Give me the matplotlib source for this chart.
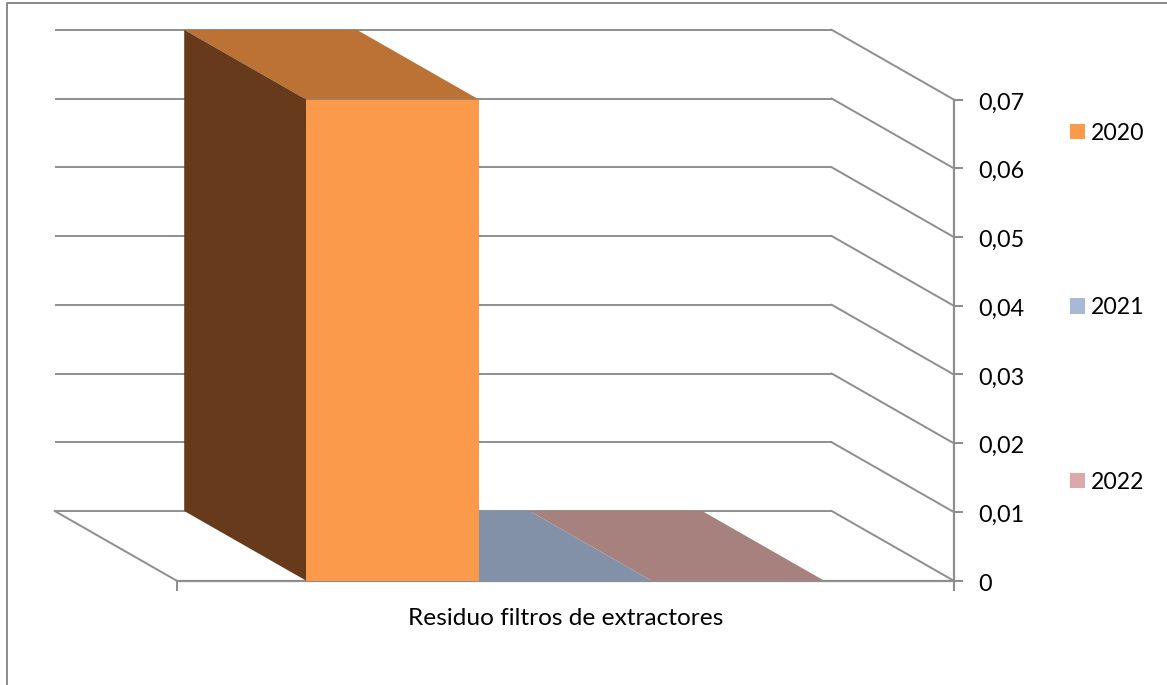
import matplotlib
matplotlib.use("Agg")
import matplotlib.pyplot as plt
from matplotlib.patches import Polygon, Patch
from matplotlib.lines import Line2D
from matplotlib.transforms import ScaledTranslation

plt.rcParams['font.family'] = ['Lato', 'DejaVu Sans']

category = "Residuo filtros de extractores"
years = ["2020", "2021", "2022"]
values = [0.07, 0.0, 0.0]
tick_values = [0, 0.01, 0.02, 0.03, 0.04, 0.05, 0.06, 0.07]
tick_labels = ["0", "0,01", "0,02", "0,03", "0,04", "0,05", "0,06", "0,07"]
front_colors = ["#FB9A4B", "#A9B8D6", "#DBA9A9"]
top_colors = ["#BC7235", "#8290A8", "#A6817E"]
side_colors = ["#663A1A", "#55606F", "#6E5554"]

W, H = 1167, 685
LINE = "#8E8E8E"
fig = plt.figure(figsize=(W / 100, H / 100), dpi=100)
left, right, top, bottom = 176.7, 953.7, 99.5, 580.7
ax = fig.add_axes([left / W, 1 - bottom / H, (right - left) / W, (bottom - top) / H])
ax.set_xlim(0, 1)
ax.set_ylim(0, 0.07)

# oblique depth: one depth unit in axis units
DX = 122 / (right - left)
DY = 69.7 / (bottom - top) * 0.07


def back(x, v):
    return (x - DX, v + DY)


# walls
for v in tick_values:
    lx, ly = back(0, v)
    bx, by = back(1, v)
    ax.plot([lx, bx], [ly, by], color=LINE, lw=1.4, clip_on=False, zorder=1,
            solid_capstyle="butt")
    ax.plot([bx, 1], [by, v], color=LINE, lw=1.4, clip_on=False, zorder=1)
# floor left edge
bx, by = back(0, 0)
ax.plot([bx, 0], [by, 0], color=LINE, lw=1.4, clip_on=False, zorder=1)

# bars: gap width 150 %
bar_w = 1 / (len(values) + 1.5)
start = 0.75 * bar_w
for i in reversed(range(len(values))):
    x0 = start + i * bar_w
    x1 = x0 + bar_w
    v = values[i]
    ax.add_patch(Polygon([(x0, v), (x1, v), back(x1, v), back(x0, v)], closed=True,
                         fc=top_colors[i], ec="none", clip_on=False, zorder=3))
    if v > 0:
        ax.add_patch(Polygon([(x0, 0), (x0, v), back(x0, v), back(x0, 0)], closed=True,
                             fc=side_colors[i], ec="none", clip_on=False, zorder=3))
        ax.bar(x0, v, width=bar_w, align="edge", color=front_colors[i], zorder=4)

for s in ("left", "top"):
    ax.spines[s].set_visible(False)
for s in ("right", "bottom"):
    ax.spines[s].set_color(LINE)
    ax.spines[s].set_linewidth(1.6)
    ax.spines[s].set_zorder(2)

ax.yaxis.tick_right()
ax.set_yticks(tick_values, tick_labels)
ax.tick_params(axis="y", length=6.5, width=1.5, color=LINE, labelsize=16.8, pad=11, labelcolor="black")
nudge = ScaledTranslation(0, -1.5 / 100, fig.dpi_scale_trans)
for t in ax.get_yticklabels():
    t.set_transform(t.get_transform() + nudge)
ax.set_xticks([0, 1], ["", ""])
ax.tick_params(axis="x", length=7, width=1.5, color=LINE)
ax.set_xlabel(category, fontsize=17.6, color="black", labelpad=9.5)

handles = [Patch(fc=c, ec="none", label=y) for c, y in zip(front_colors, years)]
fig.legend(handles=handles, loc="upper left", bbox_to_anchor=(1070 / W, 1 - 122.5 / H),
           frameon=False, fontsize=16.6, handlelength=0.66, handleheight=0.66,
           handletextpad=0.25, labelspacing=6.66, borderpad=0, borderaxespad=0)

# chart frame (cut by the picture at right and bottom)
fig.add_artist(Line2D([7 / W, 7 / W, 1], [0, 1 - 3 / H, 1 - 3 / H], transform=fig.transFigure,
                      color="#8A8A8A", lw=1.4))

fig.savefig("out.png", dpi=100, facecolor="white")
